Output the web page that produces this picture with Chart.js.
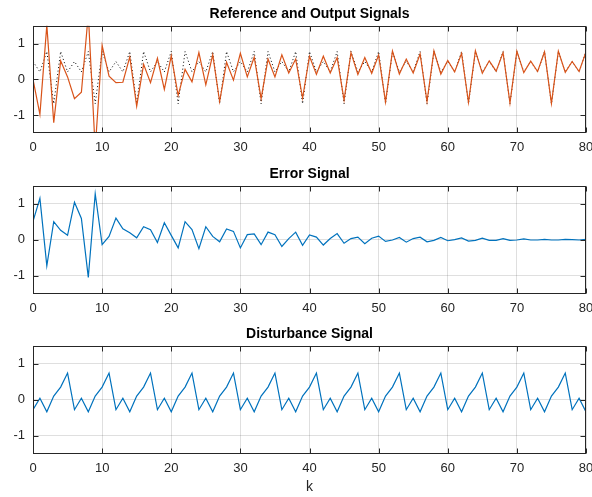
<!DOCTYPE html>
<html>
<head>
<meta charset="utf-8">
<script src="https://cdn.jsdelivr.net/npm/chart.js@4/dist/chart.umd.min.js"></script>
<style>
  body { margin: 0; background: #fff; }
  #wrap { position: relative; width: 592px; height: 497px; }
  canvas { position: absolute; left: 0; }
</style>
</head>
<body>
<div id="wrap">
  <canvas id="sigChart" width="592" height="160" style="top:0"></canvas>
  <canvas id="errChart" width="592" height="160" style="top:160px"></canvas>
  <canvas id="distChart" width="592" height="177" style="top:320px"></canvas>
</div>
<script>
// sample index k = 0..80
const k = Array.from({ length: 81 }, (_, i) => i);

const reference = [
  0.5, 0.21, 0.78, -0.68, 0.78, 0.21,
  0.5, 0.21, 0.78, -0.68, 0.78, 0.21,
  0.5, 0.21, 0.78, -0.68, 0.78, 0.21,
  0.5, 0.21, 0.78, -0.68, 0.78, 0.21,
  0.5, 0.21, 0.78, -0.68, 0.78, 0.21,
  0.5, 0.21, 0.78, -0.68, 0.78, 0.21,
  0.5, 0.21, 0.78, -0.68, 0.78, 0.21,
  0.5, 0.21, 0.78, -0.68, 0.78, 0.21,
  0.5, 0.21, 0.78, -0.68, 0.78, 0.21,
  0.5, 0.21, 0.78, -0.68, 0.78, 0.21,
  0.5, 0.21, 0.78, -0.68, 0.78, 0.21,
  0.5, 0.21, 0.78, -0.68, 0.78, 0.21,
  0.5, 0.21, 0.78, -0.68, 0.78, 0.21,
  0.5, 0.21, 0.78
];

const output = [
  0, -0.98, 1.52, -1.21, 0.52, 0.07, -0.54, -0.36, 1.83, -1.95,
  0.95, 0.09, -0.09, -0.08, 0.63, -0.75, 0.42, -0.09, 0.59, -0.28,
  0.66, -0.45, 0.28, -0.07, 0.75, -0.15, 0.69, -0.62, 0.48, -0.02,
  0.73, 0.07, 0.62, -0.54, 0.57, 0.07, 0.69, 0.18, 0.57, -0.52,
  0.65, 0.14, 0.65, 0.18, 0.61, -0.58, 0.75, 0.14, 0.61, 0.17,
  0.68, -0.63, 0.79, 0.15, 0.57, 0.18, 0.71, -0.62, 0.80, 0.15,
  0.53, 0.21, 0.73, -0.64, 0.80, 0.17, 0.52, 0.23, 0.75, -0.66,
  0.79, 0.19, 0.51, 0.22, 0.77, -0.67, 0.79, 0.20, 0.50, 0.22, 0.77
];

const error = [
  0.51, 1.15, -0.73, 0.50, 0.26, 0.12, 1.04, 0.59, -1.05, 1.28,
  -0.14, 0.09, 0.60, 0.30, 0.19, 0.05, 0.36, 0.28, -0.08, 0.47,
  0.12, -0.23, 0.50, 0.28, -0.25, 0.36, 0.09, -0.06, 0.30, 0.23,
  -0.23, 0.14, 0.16, -0.14, 0.21, 0.14, -0.19, 0.03, 0.21, -0.16,
  0.13, 0.07, -0.15, 0.03, 0.17, -0.10, 0.03, 0.07, -0.11, 0.04,
  0.10, -0.05, -0.01, 0.06, -0.07, 0.03, 0.07, -0.06, -0.02, 0.06,
  -0.03, 0.00, 0.05, -0.04, -0.02, 0.04, -0.02, -0.02, 0.03, -0.02,
  -0.01, 0.02, -0.01, -0.01, 0.01, -0.01, -0.01, 0.01, 0.00, -0.01, 0.01
];

const disturbance = [
  -0.28, 0.04, -0.34, 0.1, 0.35, 0.74,
  -0.28, 0.04, -0.34, 0.1, 0.35, 0.74,
  -0.28, 0.04, -0.34, 0.1, 0.35, 0.74,
  -0.28, 0.04, -0.34, 0.1, 0.35, 0.74,
  -0.28, 0.04, -0.34, 0.1, 0.35, 0.74,
  -0.28, 0.04, -0.34, 0.1, 0.35, 0.74,
  -0.28, 0.04, -0.34, 0.1, 0.35, 0.74,
  -0.28, 0.04, -0.34, 0.1, 0.35, 0.74,
  -0.28, 0.04, -0.34, 0.1, 0.35, 0.74,
  -0.28, 0.04, -0.34, 0.1, 0.35, 0.74,
  -0.28, 0.04, -0.34, 0.1, 0.35, 0.74,
  -0.28, 0.04, -0.34, 0.1, 0.35, 0.74,
  -0.28, 0.04, -0.34, 0.1, 0.35, 0.74,
  -0.28, 0.04, -0.34
];

const xTicks = [0, 10, 20, 30, 40, 50, 60, 70, 80];
const yTicks = [-1, 0, 1];

const FONT = "'Liberation Sans', Arial, Helvetica, sans-serif";
const AXIS_COLOR = '#262626';
const GRID_COLOR = 'rgba(38,38,38,0.15)';

// box around the axes plus short inward tick marks on every side
const axesBox = {
  id: 'axesBox',
  afterDatasetsDraw(chart) {
    const { ctx, chartArea: a, scales: { x, y } } = chart;
    const L = Math.round(a.left) + 0.5, R = Math.round(a.right) - 0.5;
    const T = Math.round(a.top) + 0.5, B = Math.round(a.bottom) - 0.5;
    ctx.save();
    ctx.strokeStyle = AXIS_COLOR;
    ctx.lineWidth = 1;
    ctx.beginPath();
    x.ticks.forEach(t => {
      const px = Math.round(x.getPixelForValue(t.value)) + 0.5;
      ctx.moveTo(px, B); ctx.lineTo(px, B - 5);
      ctx.moveTo(px, T); ctx.lineTo(px, T + 5);
    });
    y.ticks.forEach(t => {
      const py = Math.round(y.getPixelForValue(t.value)) + 0.5;
      ctx.moveTo(L, py); ctx.lineTo(L + 5, py);
      ctx.moveTo(R, py); ctx.lineTo(R - 5, py);
    });
    ctx.stroke();
    ctx.strokeRect(L, T, R - L, B - T);
    ctx.restore();
  }
};

function points(values) {
  return values.map((v, i) => ({ x: k[i], y: v }));
}

function makeChart(id, title, datasets, xHeight, xLabel) {
  return new Chart(document.getElementById(id), {
    type: 'line',
    data: { datasets },
    options: {
      responsive: false,
      animation: false,
      devicePixelRatio: 1,
      layout: { padding: { left: 0, right: 6, top: 0, bottom: 0 } },
      plugins: {
        legend: { display: false },
        tooltip: { enabled: false },
        title: {
          display: true,
          text: title,
          fullSize: false,
          color: '#000',
          font: { family: FONT, size: 14, weight: 'bold' },
          padding: { top: 6, bottom: 3 }
        }
      },
      elements: { point: { radius: 0 }, line: { tension: 0 } },
      scales: {
        x: {
          type: 'linear',
          min: 0,
          max: 80,
          afterBuildTicks: s => { s.ticks = xTicks.map(v => ({ value: v })); },
          afterFit: s => {
            s.height = xHeight;
            s.paddingLeft = 0;
            s.paddingRight = 0;
          },
          grid: { color: GRID_COLOR, drawTicks: false },
          border: { display: false },
          ticks: { color: AXIS_COLOR, padding: 7, maxRotation: 0, font: { family: FONT, size: 13 } },
          title: {
            display: !!xLabel,
            text: xLabel || '',
            color: AXIS_COLOR,
            font: { family: FONT, size: 14 },
            padding: { top: 0, bottom: 1 }
          }
        },
        y: {
          min: -1.5,
          max: 1.5,
          afterBuildTicks: s => { s.ticks = yTicks.map(v => ({ value: v })); },
          afterFit: s => {
            s.width = 33;
            s.paddingTop = 0;
            s.paddingBottom = 0;
          },
          grid: { color: GRID_COLOR, drawTicks: false },
          border: { display: false },
          ticks: { color: AXIS_COLOR, padding: 8, font: { family: FONT, size: 13 } }
        }
      }
    },
    plugins: [axesBox]
  });
}

makeChart('sigChart', 'Reference and Output Signals', [
  {
    label: 'Output',
    data: points(output),
    borderColor: '#D95319',
    borderWidth: 1.2,
    clip: 0
  },
  {
    label: 'Reference',
    data: points(reference),
    borderColor: '#000',
    borderWidth: 1,
    borderDash: [1, 2.5],
    clip: 0
  }
], 27);

makeChart('errChart', 'Error Signal', [
  {
    label: 'Error',
    data: points(error),
    borderColor: '#0072BD',
    borderWidth: 1.2,
    clip: 0
  }
], 26.5);

makeChart('distChart', 'Disturbance Signal', [
  {
    label: 'Disturbance',
    data: points(disturbance),
    borderColor: '#0072BD',
    borderWidth: 1.2,
    clip: 0
  }
], 43.5, 'k');
</script>
</body>
</html>
